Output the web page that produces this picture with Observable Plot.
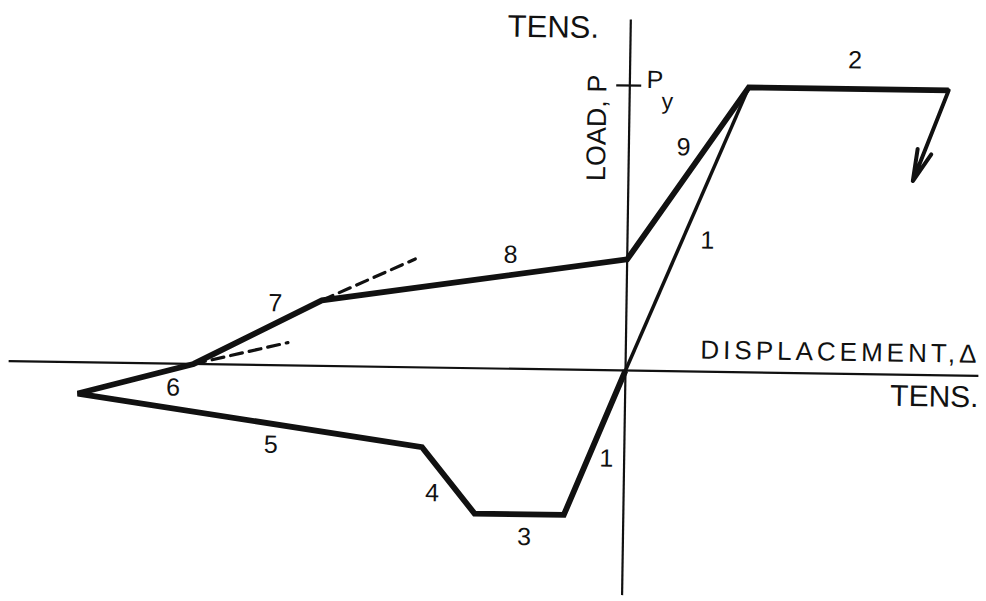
<!DOCTYPE html>
<html>
<head>
<meta charset="utf-8">
<script src="https://cdn.jsdelivr.net/npm/d3@7"></script>
<script src="https://cdn.jsdelivr.net/npm/@observablehq/plot@0.6"></script>
<style>
  html, body { margin: 0; padding: 0; background: #fff; }
  #chart { width: 986px; height: 601px; overflow: hidden; }
  /* the drawing sits slightly turned, about the axes' origin */
  #chart svg { transform: rotate(0.87deg); transform-origin: 625px 370px; }
</style>
</head>
<body>
<div id="chart"></div>
<script>
// Hysteresis path of a brace: displacement Δ/Δy and load P/Py at each vertex.
// Order: origin → compression elastic (1) → yield plateau (3) → buckling (4)
// → post-buckling (5) → unloading (6) → reloading (7, 8, 9) → tension yield (2).
const pathDelta = [0, -0.50, -1.25, -1.70, -4.60, -3.63, -2.56, 0, 1.0, 2.68];
const pathLoad  = [0, -0.51, -0.51, -0.28, -0.11, 0, 0.23, 0.39, 1.0, 1.0];

// first tension loading along the elastic line (1)
const elasticDelta = [0, 1.0];
const elasticLoad  = [0, 1.0];

// unloading after tension yield (arrow)
const unloadDelta = [2.68, 2.39];
const unloadLoad  = [1.0, 0.68];

// tangent extensions of branches 6 and 7 (dashed)
const tangentDelta = [[-3.63, -2.84], [-2.56, -1.78]];
const tangentLoad  = [[0, 0.08], [0.23, 0.38]];

// branch numbers and where they are written
const branchLabels = ["1", "1", "2", "3", "4", "5", "6", "7", "8", "9"];
const branchDelta  = [0.67, -0.15, 1.89, -0.83, -1.61, -2.97, -3.80, -2.95, -0.98, 0.46];
const branchLoad   = [0.46, -0.31, 1.10, -0.59, -0.44, -0.28, -0.084, 0.217, 0.40, 0.786];

// axis extents
const axisDelta = [-5.18, 2.97];
const axisLoad  = [-0.79, 1.23];
const yieldLoad = 1.0; // Py

// layout: pixel position of the origin and pixels per unit
const W = 986, H = 601;
const ox = 625, oy = 370, pxDelta = 119, pxLoad = 285;

const path = pathDelta.map((d, i) => ({d, p: pathLoad[i]}));
const elastic = elasticDelta.map((d, i) => ({d, p: elasticLoad[i]}));
const tangents = tangentDelta.flatMap((ds, k) => ds.map((d, i) => ({k, d, p: tangentLoad[k][i]})));
const labels = branchLabels.map((t, i) => ({t, d: branchDelta[i], p: branchLoad[i]}));

const ink = "#111";
const font = "'Liberation Sans', Arial, Helvetica, sans-serif";

const chart = Plot.plot({
  width: W,
  height: H,
  margin: 0,
  x: {domain: [-ox / pxDelta, (W - ox) / pxDelta], axis: null},
  y: {domain: [-(H - oy) / pxLoad, oy / pxLoad], axis: null},
  style: {background: "#fff", fontFamily: font, color: ink},
  marks: [
    // axes
    Plot.ruleY([0], {x1: axisDelta[0], x2: axisDelta[1], stroke: ink, strokeWidth: 2.2}),
    Plot.ruleX([0], {y1: axisLoad[0], y2: axisLoad[1], stroke: ink, strokeWidth: 2.2}),
    // Py tick on the load axis
    Plot.ruleY([yieldLoad], {x1: -0.11, x2: 0.10, stroke: ink, strokeWidth: 2.2}),
    // dashed tangents
    Plot.line(tangents, {x: "d", y: "p", z: "k", stroke: ink, strokeWidth: 3.2, strokeDasharray: "12,7"}),
    // elastic tension branch
    Plot.line(elastic, {x: "d", y: "p", stroke: ink, strokeWidth: 3.5, strokeLinecap: "butt"}),
    // hysteresis path
    Plot.line(path, {x: "d", y: "p", stroke: ink, strokeWidth: 5.8,
      strokeLinejoin: "miter", strokeMiterlimit: 3, strokeLinecap: "butt"}),
    // unloading arrow
    Plot.arrow([{x1: unloadDelta[0], y1: unloadLoad[0], x2: unloadDelta[1], y2: unloadLoad[1]}], {
      x1: "x1", y1: "y1", x2: "x2", y2: "y2",
      stroke: ink, strokeWidth: 4, headLength: 32, headAngle: 26, strokeLinejoin: "miter"
    }),
    // branch numbers
    Plot.text(labels, {x: "d", y: "p", text: "t", fontSize: 25, fill: ink, lineAnchor: "middle"}),
    // axis titles
    Plot.text(["TENS."], {x: -0.65, y: 1.20, fontSize: 31, fill: ink, lineAnchor: "middle"}),
    Plot.text(["LOAD, P"], {x: -0.27, y: 0.85, fontSize: 27, fill: ink, rotate: -90, lineAnchor: "middle"}),
    Plot.text(["P"], {x: 0.14, y: 1.02, fontSize: 25, fill: ink, textAnchor: "start", lineAnchor: "middle"}),
    Plot.text(["y"], {x: 0.27, y: 0.945, fontSize: 23, fill: ink, textAnchor: "start", lineAnchor: "middle"}),
    Plot.text(["DISPLACEMENT,\u0394"], {x: 2.98, y: 0.075, fontSize: 26, fill: ink, textAnchor: "end",
      lineAnchor: "middle"}),
    Plot.text(["TENS."], {x: 2.97, y: -0.076, fontSize: 30, fill: ink, textAnchor: "end", lineAnchor: "middle"})
  ]
});

// the displacement title is set with open letter spacing
d3.select(chart).selectAll("text")
  .filter(function() { return this.textContent.startsWith("DISPLACEMENT"); })
  .style("letter-spacing", "4px");

document.getElementById("chart").append(chart);
</script>
</body>
</html>
